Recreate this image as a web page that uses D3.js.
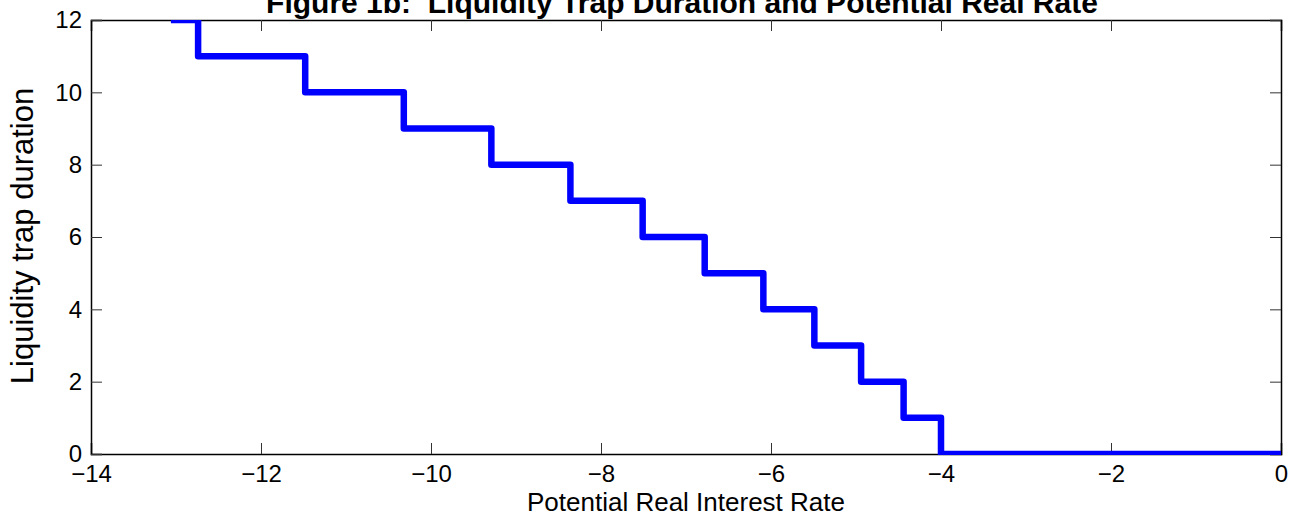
<!DOCTYPE html>
<html>
<head>
<meta charset="utf-8">
<script src="https://cdn.jsdelivr.net/npm/d3@7"></script>
<style>
  body { margin: 0; background: #fff; }
  svg { display: block; font-family: "Liberation Sans", Arial, sans-serif; }
</style>
</head>
<body>
<div id="chart"></div>
<script>
// step points: rate where each duration level starts
const rates = [-13.06, -12.74, -11.48, -10.32, -9.29, -8.36, -7.51, -6.78, -6.09, -5.49, -4.94, -4.44, -4.0, 0];
const durations = [12, 11, 10, 9, 8, 7, 6, 5, 4, 3, 2, 1, 0, 0];
const xTicks = [-14, -12, -10, -8, -6, -4, -2, 0];
const yTicks = [0, 2, 4, 6, 8, 10, 12];

const width = 1302;
const height = 529;
const margin = { top: 20, right: 21, bottom: 75, left: 91 };

const svg = d3.select("#chart")
  .append("svg")
  .attr("width", width)
  .attr("height", height);

const x = d3.scaleLinear().domain([-14, 0]).range([margin.left, width - margin.right]);
const y = d3.scaleLinear().domain([0, 12]).range([height - margin.bottom, margin.top]);

const tickLen = 11;
const fmt = (d) => (d < 0 ? "\u2212" + Math.abs(d) : String(d));

// title (clipped by top edge like the original)
svg.append("text")
  .attr("x", (x(-14) + x(0)) / 2 - 4)
  .attr("y", 13)
  .attr("text-anchor", "middle")
  .attr("font-weight", "bold")
  .attr("font-size", 30)
  .style("white-space", "pre")
  .text("Figure 1b:  Liquidity Trap Duration and Potential Real Rate");

svg.append("clipPath")
  .attr("id", "plot-clip")
  .append("rect")
  .attr("x", x(-14))
  .attr("y", y(12))
  .attr("width", x(0) - x(-14))
  .attr("height", y(0) - y(12) + 1);

// box axes with inward ticks
const axisG = svg.append("g").attr("font-size", 24);

axisG.append("g")
  .attr("transform", `translate(0,${y(0)})`)
  .call(d3.axisBottom(x).tickValues(xTicks).tickSize(-tickLen).tickPadding(11).tickFormat(fmt));
axisG.append("g")
  .attr("transform", `translate(0,${y(12)})`)
  .call(d3.axisTop(x).tickValues(xTicks).tickSize(-tickLen).tickFormat(""));
axisG.append("g")
  .attr("transform", `translate(${x(-14)},0)`)
  .call(d3.axisLeft(y).tickValues(yTicks).tickSize(-tickLen).tickPadding(9).tickFormat(fmt));
axisG.append("g")
  .attr("transform", `translate(${x(0)},0)`)
  .call(d3.axisRight(y).tickValues(yTicks).tickSize(-tickLen).tickFormat(""));

axisG.selectAll(".domain").attr("stroke", "#000").attr("stroke-width", 1.5);
axisG.selectAll(".tick line").attr("stroke", "#333").attr("stroke-width", 1);
axisG.selectAll(".tick text").attr("fill", "#000").attr("font-size", 24);

// data line, drawn over the box and clipped to it
const line = d3.line()
  .x((d, i) => x(rates[i]))
  .y((d) => y(d))
  .curve(d3.curveStepAfter);

svg.append("path")
  .attr("clip-path", "url(#plot-clip)")
  .attr("d", line(durations))
  .attr("fill", "none")
  .attr("stroke", "#0000ff")
  .attr("stroke-width", 6.5)
  .attr("stroke-linejoin", "round");

// axis labels
svg.append("text")
  .attr("x", (x(-14) + x(0)) / 2)
  .attr("y", 511)
  .attr("text-anchor", "middle")
  .attr("font-size", 26)
  .text("Potential Real Interest Rate");

svg.append("text")
  .attr("transform", `translate(33,${(y(0) + y(12)) / 2 - 1}) rotate(-90)`)
  .attr("text-anchor", "middle")
  .attr("font-size", 31)
  .text("Liquidity trap duration");
</script>
</body>
</html>
